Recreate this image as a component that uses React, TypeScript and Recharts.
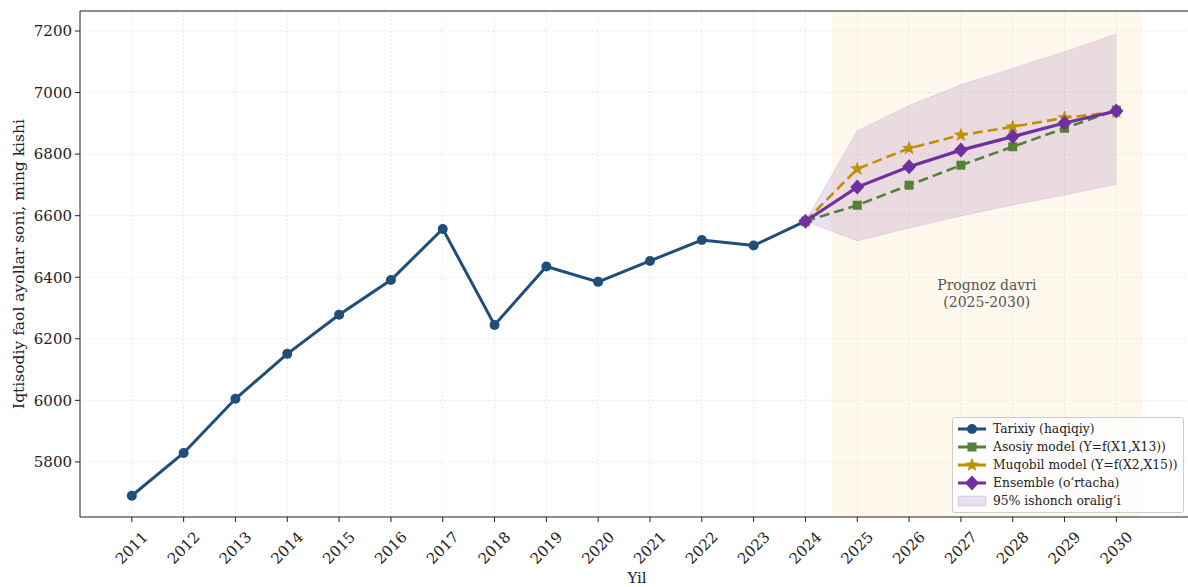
import {
  Area,
  CartesianGrid,
  ComposedChart,
  Legend,
  Line,
  ReferenceArea,
  XAxis,
  YAxis,
} from "recharts";

const YEARS = [
  2011, 2012, 2013, 2014, 2015, 2016, 2017, 2018, 2019, 2020,
  2021, 2022, 2023, 2024, 2025, 2026, 2027, 2028, 2029, 2030,
];
const HISTORY_YEARS = YEARS.slice(0, 14);
const FORECAST_YEARS = YEARS.slice(13);

const HISTORICAL = [5690, 5829, 6005, 6151, 6278, 6391, 6557, 6245, 6435, 6385, 6453, 6521, 6503, 6582];
const ASOSIY = [6582, 6634, 6699, 6764, 6824, 6884, 6943];
const MUQOBIL = [6582, 6752, 6819, 6862, 6889, 6918, 6937];
const ENSEMBLE = [6582, 6693, 6759, 6813, 6857, 6901, 6940];
const CI_LOW = [6582, 6518, 6560, 6599, 6635, 6667, 6702];
const CI_HIGH = [6582, 6876, 6958, 7025, 7079, 7133, 7190];

const Y_TICKS = [5800, 6000, 6200, 6400, 6600, 6800, 7000, 7200];

const C_HIST = "#1F4E79";
const C_ASOSIY = "#548235";
const C_MUQOBIL = "#BF9000";
const C_ENS = "#7030A0";
const FONT = "'DejaVu Serif', serif";

const data = YEARS.map((year) => {
  const h = HISTORY_YEARS.indexOf(year);
  const f = FORECAST_YEARS.indexOf(year);
  return {
    year,
    historical: h >= 0 ? HISTORICAL[h] : undefined,
    asosiy: f >= 0 ? ASOSIY[f] : undefined,
    muqobil: f >= 0 ? MUQOBIL[f] : undefined,
    ensemble: f >= 0 ? ENSEMBLE[f] : undefined,
    ci: f >= 0 ? [CI_LOW[f], CI_HIGH[f]] : undefined,
  };
});

function starPath(cx: number, cy: number, R: number) {
  const r = R * 0.42;
  let d = "";
  for (let i = 0; i < 10; i++) {
    const rad = i % 2 === 0 ? R : r;
    const a = -Math.PI / 2 + (i * Math.PI) / 5;
    d += `${i === 0 ? "M" : "L"}${cx + rad * Math.cos(a)},${cy + rad * Math.sin(a)}`;
  }
  return d + "Z";
}

const Circle = ({ cx, cy }: any) => <circle cx={cx} cy={cy} r={5} fill={C_HIST} />;
const Square = ({ cx, cy }: any) => <rect x={cx - 4.5} y={cy - 4.5} width={9} height={9} fill={C_ASOSIY} />;
const Star = ({ cx, cy }: any) => <path d={starPath(cx, cy, 7.5)} fill={C_MUQOBIL} />;
const Diamond = ({ cx, cy }: any) => (
  <path d={`M${cx},${cy - 7.5}L${cx + 7},${cy}L${cx},${cy + 7.5}L${cx - 7},${cy}Z`} fill={C_ENS} />
);

const dotOf = (Shape: any) => (props: any) => {
  if (props.cy == null || props.value == null) return <g key={props.index} />;
  return <Shape key={props.index} cx={props.cx} cy={props.cy} />;
};

const XTick = ({ x, y, payload }: any) => {
  const ty = y + 24;
  return (
    <text
      x={x}
      y={ty}
      textAnchor="middle"
      dominantBaseline="central"
      transform={`rotate(-45 ${x} ${ty})`}
      fontFamily={FONT}
      fontSize={15}
      fill="#222"
    >
      {payload.value}
    </text>
  );
};

const LEGEND_ITEMS = [
  { label: "Tarixiy (haqiqiy)", color: C_HIST, Shape: Circle },
  { label: "Asosiy model (Y=f(X1,X13))", color: C_ASOSIY, Shape: Square },
  { label: "Muqobil model (Y=f(X2,X15))", color: C_MUQOBIL, Shape: Star },
  { label: "Ensemble (o\u2018rtacha)", color: C_ENS, Shape: Diamond },
];

function LegendBox() {
  return (
    <div
      style={{
        background: "rgba(255,255,255,0.85)",
        border: "1px solid #cccccc",
        borderRadius: 3,
        padding: "2px 5px 2px 4px",
        fontFamily: FONT,
        fontSize: 12.3,
        color: "#222",
        whiteSpace: "nowrap",
      }}
    >
      {LEGEND_ITEMS.map(({ label, color, Shape }) => (
        <div key={label} style={{ display: "flex", alignItems: "center", height: 18 }}>
          <svg width={30} height={18} style={{ marginRight: 6 }}>
            <line x1={1} y1={9} x2={29} y2={9} stroke={color} strokeWidth={3} />
            <Shape cx={15} cy={9} />
          </svg>
          <span>{label}</span>
        </div>
      ))}
      <div style={{ display: "flex", alignItems: "center", height: 18 }}>
        <svg width={30} height={18} style={{ marginRight: 6 }}>
          <rect x={1} y={4} width={28} height={10} fill={C_ENS} fillOpacity={0.15} stroke={C_ENS} strokeOpacity={0.15} />
        </svg>
        <span>95% ishonch oralig{"\u2018"}i</span>
      </div>
    </div>
  );
}

const PrognozLabel = ({ viewBox }: any) => {
  const cx = viewBox.x + viewBox.width / 2;
  return (
    <g fontFamily={FONT} fontSize={14} fill="#555">
      <text x={cx} y={290} textAnchor="middle">Prognoz davri</text>
      <text x={cx} y={307} textAnchor="middle">(2025-2030)</text>
    </g>
  );
};

export default function App() {
  return (
    <div
      style={{
        position: "fixed",
        top: 0,
        left: 0,
        width: 1188,
        height: 587,
        overflow: "hidden",
        background: "#fff",
      }}
    >
      <ComposedChart
        width={1240}
        height={587}
        data={data}
        margin={{ top: 0, right: 20, left: 0, bottom: 0 }}
      >
        <CartesianGrid stroke="#e2e2e2" strokeDasharray="1.5 2.5" />
        <ReferenceArea
          x1={2024.5}
          x2={2030.5}
          y1={5621}
          y2={7265}
          fill="#FFE9B8"
          fillOpacity={0.25}
          stroke="none"
          ifOverflow="hidden"
          label={<PrognozLabel />}
        />
        <XAxis
          dataKey="year"
          type="number"
          domain={[2010, 2032]}
          ticks={YEARS}
          interval={0}
          height={70}
          tick={<XTick />}
          tickSize={5}
          tickLine={{ stroke: "#222" }}
          axisLine={{ stroke: "#222" }}
          allowDataOverflow
          label={{
            content: () => (
              <text x={637} y={583} textAnchor="middle" fontFamily={FONT} fontSize={15} fill="#222">
                Yil
              </text>
            ),
          }}
        />
        <XAxis
          xAxisId="top"
          orientation="top"
          type="number"
          domain={[2010, 2032]}
          height={11}
          tick={false}
          tickLine={false}
          axisLine={{ stroke: "#222" }}
        />
        <YAxis
          type="number"
          domain={[5621, 7265]}
          ticks={Y_TICKS}
          width={80}
          allowDataOverflow
          tickSize={5}
          tickMargin={3}
          tick={{ fontFamily: FONT, fontSize: 15, fill: "#222" }}
          tickLine={{ stroke: "#222" }}
          axisLine={{ stroke: "#222" }}
          label={{
            content: () => (
              <text
                x={19}
                y={264}
                textAnchor="middle"
                dominantBaseline="central"
                transform="rotate(-90 19 264)"
                fontFamily={FONT}
                fontSize={15.5}
                fill="#222"
              >
                Iqtisodiy faol ayollar soni, ming kishi
              </text>
            ),
          }}
        />
        <Area
          dataKey="ci"
          type="linear"
          fill={C_ENS}
          fillOpacity={0.15}
          stroke={C_ENS}
          strokeOpacity={0.12}
          strokeWidth={1}
          isAnimationActive={false}
          legendType="none"
        />
        <Line
          dataKey="historical"
          type="linear"
          stroke={C_HIST}
          strokeWidth={3}
          dot={dotOf(Circle)}
          activeDot={false}
          isAnimationActive={false}
        />
        <Line
          dataKey="asosiy"
          type="linear"
          stroke={C_ASOSIY}
          strokeWidth={2.6}
          strokeDasharray="10 5"
          dot={dotOf(Square)}
          activeDot={false}
          isAnimationActive={false}
        />
        <Line
          dataKey="muqobil"
          type="linear"
          stroke={C_MUQOBIL}
          strokeWidth={2.6}
          strokeDasharray="10 5"
          dot={dotOf(Star)}
          activeDot={false}
          isAnimationActive={false}
        />
        <Line
          dataKey="ensemble"
          type="linear"
          stroke={C_ENS}
          strokeWidth={3.2}
          dot={dotOf(Diamond)}
          activeDot={false}
          isAnimationActive={false}
        />
        <Legend
          layout="vertical"
          align="center"
          verticalAlign="middle"
          content={() => <LegendBox />}
          wrapperStyle={{ left: 952, top: 417, width: "auto", height: "auto" }}
        />
      </ComposedChart>
    </div>
  );
}
